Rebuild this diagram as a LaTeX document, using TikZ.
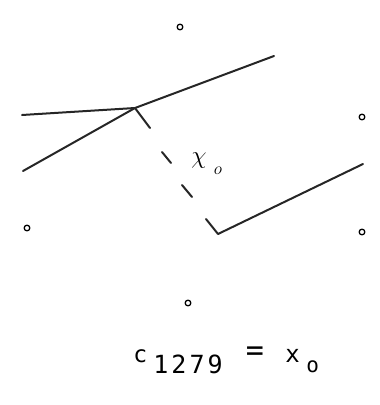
\documentclass[tikz,border=0pt]{standalone}
\usepackage{fontspec}
\setmonofont{DejaVu Sans Mono}

\begin{document}
\begin{tikzpicture}[x=1pt,y=-1pt,thick,line cap=round,line join=round]
	\tikzstyle{dian}=[circle,draw,fill=white,line width=1.3pt,inner sep=2pt];
	\tikzstyle{xian}=[line width=2pt,black!85];
	\tikzstyle{zi}=[inner sep=0pt,anchor=base west];
	\useasboundingbox (0,0) rectangle (380,405);
	%% points
	\node[dian] (N) at (180,27)  {};
	\node[dian] (E) at (362,117) {};
	\node[dian] (W) at (27,228)  {};
	\node[dian] (S) at (362,232) {};
	\node[dian] (B) at (188,303) {};
	%% lines
	\coordinate (a1) at (22,115);
	\coordinate (X)  at (135,108);
	\coordinate (a2) at (274,56);
	\coordinate (b1) at (23,171);
	\coordinate (t1) at (150,128);
	\coordinate (d1) at (162,152);
	\coordinate (d2) at (171,163);
	\coordinate (d3) at (182,185);
	\coordinate (d4) at (192,197);
	\coordinate (c1) at (206,219);
	\coordinate (c2) at (218,234);
	\coordinate (c3) at (363,164);
	\draw[xian] (a1) -- (X) -- (a2);
	\draw[xian] (b1) -- (X) -- (t1);
	\draw[xian] (d1) -- (d2);
	\draw[xian] (d3) -- (d4);
	\draw[xian] (c1) -- (c2) -- (c3);
	%% labels
	\node (chi) at (199,161) {\fontsize{28}{28}\selectfont$\chi$};
	\node (chio) at (218,171) {\fontsize{17}{17}\selectfont$o$};
	\node[zi] (c)   at (133,362) {\fontsize{23}{23}\selectfont\ttfamily c};
	\node[zi] (idx) at (153,373) {\fontsize{25}{25}\selectfont\ttfamily\addfontfeature{LetterSpace=12}1279};
	\node (eq)      at (255,354) {\fontsize{30}{30}\selectfont\ttfamily =};
	\node[zi] (x)   at (285,362) {\fontsize{24}{24}\selectfont\ttfamily x};
	\node[zi] (x0)  at (306,372) {\fontsize{21}{21}\selectfont\ttfamily o};
\end{tikzpicture}
\end{document}
